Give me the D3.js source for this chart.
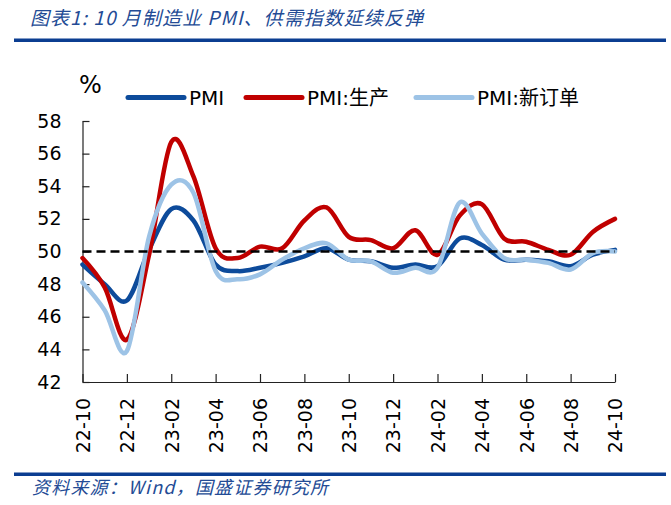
<!DOCTYPE html>
<html><head><meta charset="utf-8">
<script src="https://cdn.jsdelivr.net/npm/d3@7/dist/d3.min.js"></script>
<style>html,body{margin:0;padding:0;background:#fff;}svg{display:block;}</style>
</head><body>
<script>
const months = ["22-10","22-11","22-12","23-01","23-02","23-03","23-04","23-05","23-06","23-07","23-08","23-09","23-10","23-11","23-12","24-01","24-02","24-03","24-04","24-05","24-06","24-07","24-08","24-09","24-10"];
const pmi =        [49.2,48.0,47.0,50.1,52.6,51.9,49.2,48.8,49.0,49.3,49.7,50.2,49.5,49.4,49.0,49.2,49.1,50.8,50.4,49.5,49.5,49.4,49.1,49.8,50.1];
const production = [49.6,47.8,44.6,49.8,56.7,54.6,50.2,49.6,50.3,50.2,51.9,52.7,50.9,50.7,50.2,51.3,49.8,52.2,52.9,50.8,50.6,50.1,49.8,51.2,52.0];
const newOrders =  [48.1,46.4,43.9,50.9,54.1,53.6,48.8,48.3,48.6,49.5,50.2,50.5,49.5,49.4,48.7,49.0,49.0,53.0,51.1,49.6,49.5,49.3,48.9,49.9,50.0];
const yTicks = [42,44,46,48,50,52,54,56,58];
const seriesNames = ["PMI","PMI:生产","PMI:新订单"];
const seriesColors = ["#0d4b9b","#c00000","#9dc3e6"];
const refLine = 50;
const titleText = "图表1:  10 月制造业 PMI、供需指数延续反弹";
const sourceText = "资料来源：Wind，国盛证券研究所";

const W = 671, H = 505;
const svg = d3.select("body").append("svg").attr("width", W).attr("height", H);

// title
svg.append("text").attr("x", 30).attr("y", 25)
  .attr("font-family", "'Noto Sans CJK SC', 'DejaVu Sans', sans-serif")
  .attr("font-style", "italic").attr("font-size", 19).attr("fill", "#234b95")
  .attr("textLength", 393).attr("lengthAdjust", "spacing")
  .text(titleText);
svg.append("rect").attr("x", 14).attr("y", 38.5).attr("width", 652).attr("height", 3.5).attr("fill", "#0b3d91");

const x = d3.scaleLinear().domain([0, months.length - 1]).range([82.5, 615]);
const y = d3.scaleLinear().domain([42, 58]).range([382, 121]);

// y axis
const yAxis = d3.axisLeft(y).tickValues(yTicks).tickSizeInner(-7).tickSizeOuter(0).tickPadding(21).tickFormat(d3.format("d"));
const gy = svg.append("g").attr("transform", `translate(${x(0)},0)`).call(yAxis);
gy.select(".domain").attr("stroke", "#222").attr("stroke-width", 1.2);
gy.selectAll(".tick line").attr("stroke", "#222").attr("stroke-width", 1.2);
gy.selectAll(".tick text").attr("font-family", "'DejaVu Sans', sans-serif").attr("font-size", 19).attr("fill", "#000");

// x axis
const xTickIdx = d3.range(0, months.length, 2);
const xAxis = d3.axisBottom(x).tickValues(xTickIdx).tickSizeInner(-8).tickSizeOuter(0).tickFormat(i => months[i]);
const gx = svg.append("g").attr("transform", `translate(0,${y(42)})`).call(xAxis);
gx.select(".domain").attr("stroke", "#222").attr("stroke-width", 1.2);
gx.selectAll(".tick line").attr("stroke", "#222").attr("stroke-width", 1.2);
gx.selectAll(".tick text")
  .attr("font-family", "'DejaVu Sans', sans-serif").attr("font-size", 19).attr("fill", "#000")
  .attr("transform", "rotate(-90)")
  .attr("text-anchor", "end").attr("x", -16).attr("y", 0).attr("dy", "0.36em");

// lines
const line = d3.line().x((d, i) => x(i)).y(d => y(d)).curve(d3.curveCatmullRom.alpha(0));
const data = [pmi, production, newOrders];
data.forEach((s, k) => {
  svg.append("path").datum(s).attr("d", line)
    .attr("fill", "none").attr("stroke", seriesColors[k]).attr("stroke-width", 4.5)
    .attr("stroke-linejoin", "round").attr("stroke-linecap", "round");
});

// reference dashed line
svg.append("line").attr("x1", x(0)).attr("x2", x(months.length - 1))
  .attr("y1", y(refLine)).attr("y2", y(refLine))
  .attr("stroke", "#000").attr("stroke-width", 2.5).attr("stroke-dasharray", "9,5");

// % label
svg.append("text").attr("x", 79).attr("y", 93).attr("font-family", "'DejaVu Sans', sans-serif")
  .attr("font-size", 24).attr("fill", "#000").text("%");

// legend
const legendX = [128, 246, 416];
legendX.forEach((lx, k) => {
  svg.append("line").attr("x1", lx).attr("x2", lx + 56).attr("y1", 97.5).attr("y2", 97.5)
    .attr("stroke", seriesColors[k]).attr("stroke-width", 5).attr("stroke-linecap", "round");
  svg.append("text").attr("x", lx + 61).attr("y", 105)
    .attr("font-family", "'DejaVu Sans', 'Noto Sans CJK SC', sans-serif")
    .attr("font-size", 20).attr("fill", "#000").text(seriesNames[k]);
});

// source
svg.append("rect").attr("x", 14).attr("y", 472.5).attr("width", 652).attr("height", 3.5).attr("fill", "#0b3d91");
svg.append("text").attr("x", 32).attr("y", 494)
  .attr("font-family", "'Noto Sans CJK SC', 'DejaVu Sans', sans-serif")
  .attr("font-style", "italic").attr("font-size", 18).attr("fill", "#234b95")
  .attr("letter-spacing", 1.2)
  .text(sourceText);
</script>
</body></html>
